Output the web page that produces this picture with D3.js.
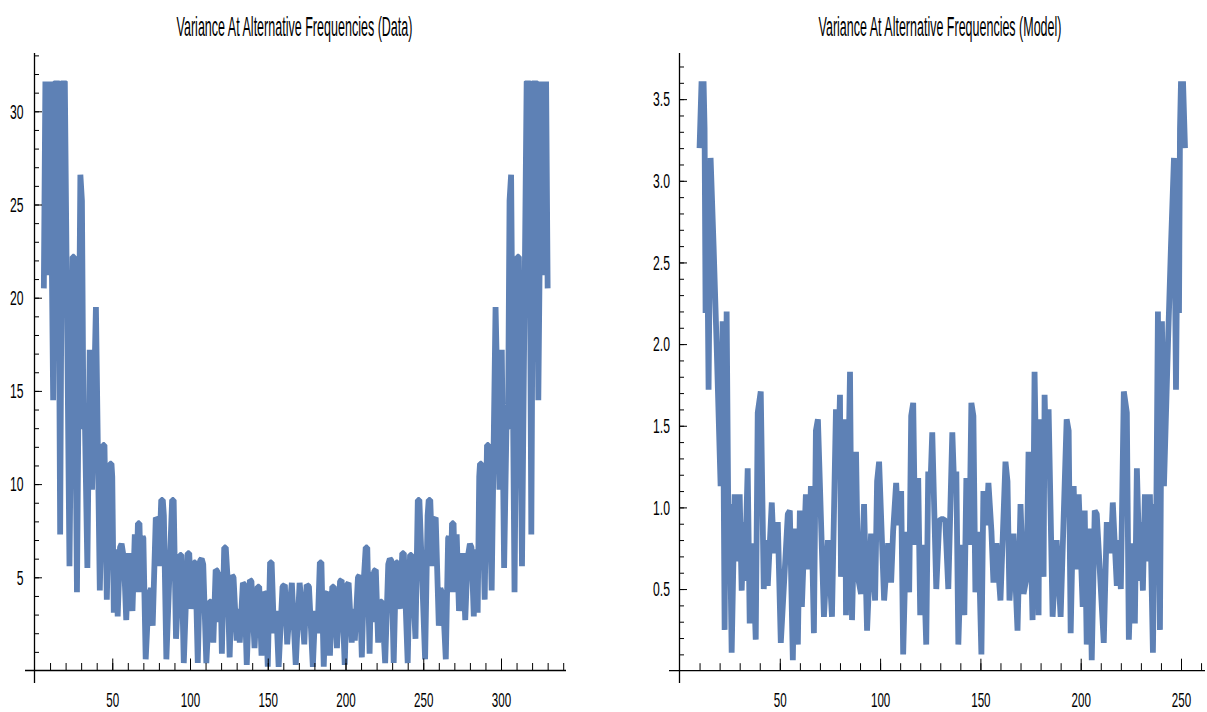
<!DOCTYPE html>
<html>
<head>
<meta charset="UTF-8">
<title>Variance At Alternative Frequencies</title>
<script src="https://cdn.jsdelivr.net/npm/d3@7"></script>
<style>
  body { margin: 0; background: #ffffff; }
  svg text { font-family: "Liberation Sans", Arial, sans-serif; fill: #000; }
</style>
</head>
<body>
<svg id="mainsvg" width="1207" height="712"></svg>
<script>
// values (frequency index -> variance)
const dataFreq = [
  6, 7, 8.5, 10, 12, 13.5, 15, 16.5, 18, 19.5,
  22.5, 24.5, 25.5, 27.3, 29.5, 30.5, 31.5, 32.5, 34, 35.5,
  37, 39.5, 42, 44, 45, 46.5, 48.5, 49.5, 50, 51,
  52.5, 53.5, 55, 56, 57.5, 59, 60.5, 62, 63, 64.5,
  65.5, 66.5, 67.5, 68.5, 69.5, 70, 71.5, 73.5, 75, 76,
  78, 79, 80, 81.5, 82.5, 83.2, 84.8, 88.5, 89.5, 91,
  93.5, 94.5, 96, 98.5, 99.5, 101, 102.5, 103.5, 105, 106.5,
  107.5, 108.5, 110.5, 112.5, 113.5, 115, 116.5, 117.5, 118.5, 119.5,
  120.5, 122, 123, 124, 125.5, 127, 128, 130, 131, 132,
  134, 135, 136.5, 138.5, 139.5, 141.5, 143.5, 144.5, 146, 147.5,
  148.5, 150, 151.5, 152.5, 154, 155.5, 157, 159.5, 161, 162.5,
  164.5, 165.5, 168,
  170.5, 171.5, 173.5, 175, 176.5, 179, 180.5, 182, 183.5, 184.5,
  186, 187.5, 188.5, 190, 191.5, 192.5, 194.5, 196.5, 197.5, 199.5,
  201, 202, 204, 205, 206, 208, 209, 210.5, 212, 213,
  214, 215.5, 216.5, 217.5, 218.5, 219.5, 221, 222.5, 223.5, 225.5,
  227.5, 228.5, 229.5, 231, 232.5, 233.5, 235, 236.5, 237.5, 240,
  241.5, 242.5, 245, 246.5, 247.5, 251.2, 252.8, 253.5, 254.5, 256,
  257, 258, 260, 261, 262.5, 264.5, 266, 266.5, 267.5, 268.5,
  269.5, 270.5, 271.5, 273, 274, 275.5, 277, 278.5, 280, 281,
  282.5, 283.5, 285, 286, 286.5, 287.5, 289.5, 291, 292, 294,
  296.5, 299, 300.5, 302, 303.5, 304.5, 305.5, 306.5, 308.7, 310.5,
  311.5, 313.5, 316.5, 318, 319.5, 321, 322.5, 324, 326, 327.5,
  329, 330
];
const dataVar = [
  20.5, 31.6, 21.2, 31.6, 14.5, 31.6, 31.6, 7.3, 31.6, 31.6,
  5.6, 22.2, 22.2, 4.2, 26.6, 25.2, 13.0, 13.0, 5.5, 17.2,
  9.7, 19.5, 4.3, 12.1, 12.1, 3.8, 11.1, 11.1, 10.4, 3.1,
  6.5, 2.9, 6.6, 6.8, 6.0, 2.7, 6.3, 4.0, 3.2, 7.3,
  4.2, 7.9, 7.9, 4.2, 7.2, 7.1, 0.6, 4.1, 4.4, 2.4,
  8.2, 8.1, 5.6, 9.15, 9.15, 8.3, 0.6, 9.15, 9.15, 1.7,
  6.2, 6.2, 0.4, 6.3, 6.3, 3.3, 5.8, 5.8, 0.4, 5.9,
  6.0, 5.7, 0.4, 3.7, 3.7, 1.5, 5.4, 5.35, 2.6, 5.3,
  0.9, 6.6, 6.6, 5.2, 0.7, 5.1, 5.0, 1.6, 3.3, 1.5,
  4.7, 4.6, 0.3, 4.85, 4.8, 1.2, 4.5, 4.5, 0.8, 4.2,
  4.1, 0.2, 5.8, 5.8, 2.0, 3.2, 0.2, 4.5, 4.6, 1.4,
  3.8, 4.7, 0.3,
  4.7, 3.8, 1.4, 4.6, 4.5, 0.2, 3.2, 2.0, 5.8, 5.8,
  0.2, 4.1, 4.2, 0.8, 4.5, 4.5, 1.2, 4.8, 4.85, 0.3,
  4.6, 4.7, 1.5, 3.3, 1.6, 5.0, 5.1, 0.7, 5.2, 6.6,
  6.6, 0.9, 5.3, 2.6, 5.35, 5.4, 1.5, 3.7, 3.7, 0.4,
  5.7, 6.0, 5.9, 0.4, 5.8, 5.8, 3.3, 6.3, 6.3, 0.4,
  6.2, 6.2, 1.7, 9.15, 9.15, 0.6, 8.3, 9.15, 9.15, 5.6,
  8.1, 8.2, 2.4, 4.4, 4.1, 0.6, 7.1, 7.2, 4.2, 7.9,
  7.9, 4.2, 7.3, 3.2, 4.0, 6.3, 2.7, 6.0, 6.8, 6.6,
  2.9, 6.5, 3.1, 10.4, 11.1, 11.1, 3.8, 12.1, 12.1, 4.3,
  19.5, 9.7, 17.2, 5.5, 13.0, 13.0, 25.2, 26.6, 4.2, 22.2,
  22.2, 5.6, 31.6, 31.6, 7.3, 31.6, 31.6, 14.5, 31.6, 21.2,
  31.6, 20.5
];

const modelFreq = [
  10, 11, 12, 12.5, 13, 13.7, 14.5, 15.5, 17, 18.5,
  20.5, 21.5, 22.5, 23.5, 24.5, 25, 26, 27.5, 28.5, 30,
  31, 32, 32.5, 34, 35, 36.5, 38, 39, 40.5, 42,
  43, 44, 46, 47, 49, 50.5, 54, 55, 56.5, 57.5,
  59, 60, 61, 63, 64.5, 65.5, 67, 68, 69, 72,
  74, 76, 78, 79, 80, 80.5, 82.5, 83, 85, 86,
  88, 89, 90.5, 92, 93.5, 95.5, 97.5, 98.5, 99.5, 102,
  104, 105.5, 106.5, 108, 109, 110.5, 111.5, 113, 114.5, 115.5,
  116.5, 117.5, 119, 120, 121.5, 123, 124, 125, 126, 128,
  129.5, 131,
  132.5, 134, 136, 137, 138, 139, 140.5, 142, 143, 144.5,
  145.5, 146.5, 147.5, 149, 150.5, 151.5, 153, 154, 155.5, 156.5,
  158, 160, 162.5, 163.5, 164.5, 166.5, 168.5, 170, 171.5, 173,
  174, 176, 177, 179, 179.5, 181.5, 182, 183, 184, 186,
  188, 190, 193, 194, 195, 196.5, 197.5, 199, 201, 202,
  203, 204.5, 205.5, 207, 208, 211.5, 213, 215, 216, 218,
  219, 220, 221.5, 223, 224, 225.5, 227, 228, 229.5, 230,
  231, 232, 233.5, 234.5, 236, 237, 237.5, 238.5, 239.5, 240.5,
  241.5, 243.5, 245, 246.5, 247.5, 248.3, 249, 249.5, 250, 251,
  252
];
const modelVar = [
  3.2, 3.61, 3.61, 3.32, 2.19, 2.82, 1.72, 3.14, 2.6, 2.0,
  1.13, 2.14, 0.25, 2.2, 0.68, 1.02, 0.11, 1.08, 0.67, 1.08,
  0.49, 0.91, 0.55, 1.24, 0.29, 0.78, 0.19, 1.58, 1.71, 0.5,
  0.8, 0.52, 1.03, 0.72, 0.91, 0.17, 0.96, 0.98, 0.065, 0.87,
  0.16, 0.98, 0.39, 1.08, 0.62, 1.13, 0.23, 1.47, 1.54, 0.33,
  0.8, 0.33, 1.6, 1.2, 1.69, 0.575, 1.54, 0.34, 1.83, 0.31,
  1.34, 0.57, 0.47, 1.02, 0.245, 0.84, 0.43, 1.16, 1.28, 0.43,
  0.78, 0.54, 0.855, 1.15, 0.89, 1.1, 0.1, 0.85, 0.48, 1.56,
  1.64, 0.77, 1.18, 0.34, 0.77, 0.16, 1.22, 1.1, 1.46, 0.5,
  0.92, 0.93,
  0.92, 0.5, 1.46, 1.1, 1.22, 0.16, 0.77, 0.34, 1.18, 0.77,
  1.64, 1.56, 0.48, 0.85, 0.1, 1.1, 0.89, 1.15, 0.855, 0.54,
  0.78, 0.43, 1.28, 1.16, 0.43, 0.84, 0.245, 1.02, 0.47, 0.57,
  1.34, 0.31, 1.83, 0.34, 1.54, 0.575, 1.69, 1.2, 1.6, 0.33,
  0.8, 0.33, 1.54, 1.47, 0.23, 1.13, 0.62, 1.08, 0.39, 0.98,
  0.16, 0.87, 0.065, 0.98, 0.96, 0.17, 0.91, 0.72, 1.03, 0.52,
  0.8, 0.5, 1.71, 1.58, 0.19, 0.78, 0.29, 1.24, 0.55, 0.91,
  0.49, 1.08, 0.67, 1.08, 0.11, 1.02, 0.68, 2.2, 0.25, 2.14,
  1.13, 2.0, 2.6, 3.14, 1.72, 2.82, 2.19, 3.32, 3.61, 3.61,
  3.2
];

const dataXTicks = [50, 100, 150, 200, 250, 300];
const dataYTicks = [5, 10, 15, 20, 25, 30];
const modelXTicks = [50, 100, 150, 200, 250];
const modelYTicks = [0.5, 1.0, 1.5, 2.0, 2.5, 3.0, 3.5];

const svg = d3.select('#mainsvg');
const lineColor = '#5E81B5';
const squeeze = 0.58; // labels in the picture use a very narrow face

const panels = [
  {
    id: 'data', title: 'Variance At Alternative Frequencies (Data)', titleX: 294.5, titleW: 236,
    freq: dataFreq, vals: dataVar, top: 31.65,
    x: d3.scaleLinear().domain([0, 340]).range([34.5, 34.5 + 340 * 1.555]),
    y: d3.scaleLinear().domain([0, 33]).range([670.5, 670.5 - 33 * 18.64]),
    xTicks: dataXTicks, xMinor: d3.range(10, 341, 10),
    yTicks: dataYTicks, yMinor: d3.range(1, 34, 1),
    yFmt: d3.format('d'), xAxisFrom: 25, xAxisTo: 566, yPad: 11
  },
  {
    id: 'model', title: 'Variance At Alternative Frequencies (Model)', titleX: 940, titleW: 243,
    freq: modelFreq, vals: modelVar, top: 3.61,
    x: d3.scaleLinear().domain([0, 260]).range([679.5, 679.5 + 260 * 2.006]),
    y: d3.scaleLinear().domain([0, 3.7]).range([670.7, 670.7 - 3.7 * 163.3]),
    xTicks: modelXTicks, xMinor: d3.range(10, 261, 10),
    yTicks: modelYTicks, yMinor: d3.range(1, 38, 1).map(d => d / 10),
    yFmt: d3.format('.1f'), xAxisFrom: 669, xAxisTo: 1205, yPad: 9.5
  }
];

// squash a label horizontally (scale about x = 0, keeping its anchor point)
function narrow(sel, factor) {
  sel.each(function () {
    const t = d3.select(this);
    const x = +(t.attr('x') || 0);
    t.attr('x', x / factor).attr('transform', `scale(${factor},1)`);
  });
}

panels.forEach(p => {
  const g = svg.append('g').attr('id', p.id);
  const x0 = p.x(0), y0 = p.y(0);

  // title, squeezed to the width it has in the picture
  const title = g.append('g').attr('transform', `translate(${p.titleX},36)`)
    .append('text')
    .attr('text-anchor', 'middle')
    .attr('font-size', 28)
    .text(p.title);
  title.attr('transform', `scale(${p.titleW / title.node().getComputedTextLength()},1)`);

  // clip at the top of the plot range, values above it are cut flat
  g.append('clipPath').attr('id', 'clip-' + p.id)
    .append('rect')
    .attr('x', p.x.range()[0] - 10).attr('y', p.y(p.top))
    .attr('width', p.x.range()[1] - p.x.range()[0] + 20)
    .attr('height', y0 - p.y(p.top) + 12);

  const line = d3.line()
    .x((d, i) => p.x(p.freq[i]))
    .y(d => p.y(d));

  g.append('path')
    .datum(p.vals)
    .attr('d', line)
    .attr('clip-path', `url(#clip-${p.id})`)
    .attr('fill', 'none')
    .attr('stroke', lineColor)
    .attr('stroke-width', 5.8)
    .attr('stroke-linejoin', 'bevel')
    .attr('stroke-linecap', 'butt');

  // x axis: minor + major ticks pointing up into the plot
  g.append('g').attr('transform', `translate(0,${y0})`).attr('color', '#000')
    .call(d3.axisBottom(p.x).tickValues(p.xMinor).tickSize(-7.5).tickFormat(''))
    .call(a => a.select('.domain').remove());
  g.append('g').attr('transform', `translate(0,${y0})`).attr('color', '#000')
    .call(d3.axisBottom(p.x).tickValues(p.xTicks).tickSize(-12).tickPadding(22).tickFormat(d3.format('d')))
    .call(a => a.select('.domain').remove())
    .call(a => a.selectAll('text').attr('font-size', 20).attr('font-family', '"Liberation Sans", Arial, sans-serif').call(narrow, squeeze));

  // y axis: ticks pointing right
  g.append('g').attr('transform', `translate(${x0},0)`).attr('color', '#000')
    .call(d3.axisLeft(p.y).tickValues(p.yMinor).tickSize(-4.5).tickFormat(''))
    .call(a => a.select('.domain').remove());
  g.append('g').attr('transform', `translate(${x0},0)`).attr('color', '#000')
    .call(d3.axisLeft(p.y).tickValues(p.yTicks).tickSize(-7.5).tickPadding(p.yPad).tickFormat(p.yFmt))
    .call(a => a.select('.domain').remove())
    .call(a => a.selectAll('text').attr('font-size', 21).attr('font-family', '"Liberation Sans", Arial, sans-serif').call(narrow, squeeze));

  // axis lines, slightly overshooting the origin
  g.append('line')
    .attr('x1', p.xAxisFrom).attr('x2', p.xAxisTo)
    .attr('y1', y0).attr('y2', y0)
    .attr('stroke', '#000').attr('stroke-width', 1.3);
  g.append('line')
    .attr('x1', x0).attr('x2', x0)
    .attr('y1', 53).attr('y2', 683)
    .attr('stroke', '#000').attr('stroke-width', 1.3);
});
</script>
</body>
</html>
